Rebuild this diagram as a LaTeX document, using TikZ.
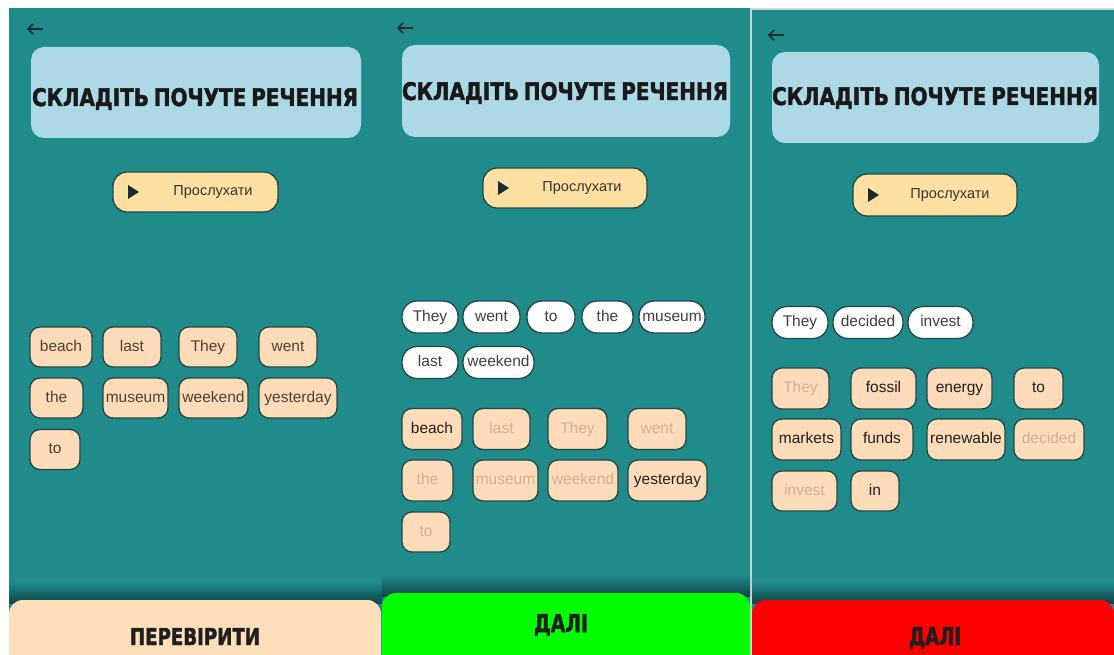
\documentclass[tikz,border=0pt]{standalone}
\usepackage{fontspec}
\usepackage{graphicx}
\setmainfont{Liberation Sans}
\newfontfamily\djv{DejaVu Sans}[BoldFeatures={FakeBold=2}]
\definecolor{teal1}{RGB}{31,139,139}
\definecolor{titlebg}{RGB}{173,216,230}
\definecolor{playbg}{RGB}{255,224,163}
\definecolor{peach}{RGB}{255,220,185}
\definecolor{btnpeach}{RGB}{255,222,186}
\definecolor{chipedge}{RGB}{35,72,68}
\definecolor{chiptxt}{RGB}{75,62,52}
\definecolor{fadetxt}{RGB}{205,176,148}
\definecolor{whitetxt}{RGB}{62,62,62}
\definecolor{sepcol}{RGB}{200,214,214}
\definecolor{green1}{RGB}{0,255,0}
\definecolor{red1}{RGB}{255,0,0}
\definecolor{icon}{RGB}{25,45,45}
\newcommand\chipfont{\fontsize{15.5}{18}\selectfont}
\newcommand\mytitle{\resizebox{326pt}{18pt}{\djv\bfseries СКЛАДІТЬ\hspace{-0.1em} ПОЧУТЕ\hspace{-0.1em} РЕЧЕННЯ}}
\newcommand\backarrow[2]{%
  \draw[icon, line width=1.5pt] ({#1+8},#2) -- ({#1-7},#2);
  \draw[icon, line width=1.5pt, line join=miter] ({#1-2},{#2-5}) -- ({#1-7},#2) -- ({#1-2},{#2+5});}
\newcommand\playtri[2]{%
  \fill[icon] ({#1-5},{#2-7}) -- ({#1+6},#2) -- ({#1-5},{#2+7}) -- cycle;}
\begin{document}
\begin{tikzpicture}[x=1pt,y=-1pt,
  titlebox/.style={fill=titlebg, rounded corners=13pt, inner sep=0pt},
  titletxt/.style={anchor=base, inner sep=0pt, text=black!90},
  playbtn/.style={draw=chipedge, line width=1.3pt, fill=playbg, rounded corners=14pt, inner sep=0pt},
  playtxt/.style={font=\fontsize{14.5}{16}\selectfont, text=black!80, inner sep=0pt},
  peachchip/.style={draw=chipedge, line width=1.3pt, fill=peach, rounded corners=10pt,
    inner sep=0pt, font=\chipfont, text=chiptxt, text height=11pt, text depth=3pt},
  fadechip/.style={peachchip, text=fadetxt},
  darkchip/.style={peachchip, text=black!88},
  whitechip/.style={draw=chipedge, line width=1.3pt, fill=white, rounded corners=15pt,
    inner sep=0pt, font=\chipfont, text=whitetxt, text height=11pt, text depth=3pt},
  btntxt/.style={anchor=base, inner sep=0pt, text=black!88}]
\useasboundingbox (0,0) rectangle (1114,655);
\clip (0,0) rectangle (1114,655);
% backgrounds
\fill[white] (0,0) rectangle (1114,655);
\fill[teal1] (9,8) rectangle (750,655);
\fill[sepcol] (750,8) rectangle (752,655);
\fill[sepcol] (752,8) rectangle (1114,10);
\fill[teal1] (752,10) rectangle (1114,655);
% shadows above bottom buttons
\shade[top color=teal1, bottom color=teal1!50!black] (9,582) rectangle (382,603);
\shade[top color=teal1, bottom color=teal1!50!black] (382,575) rectangle (750,596);
\shade[top color=teal1, bottom color=teal1!50!black] (752,582) rectangle (1114,603);
% bottom buttons
\fill[btnpeach, rounded corners=14pt] (9,680) -- (9,600) -- (381,600) -- (381,680) -- cycle;
\fill[green1, rounded corners=14pt] (382,680) -- (382,593) -- (750,593) -- (750,680) -- cycle;
\fill[red1, rounded corners=14pt] (752,680) -- (752,600) -- (1114,600) -- (1114,680) -- cycle;
\node[btntxt] (b1) at (195,645) {\resizebox{130pt}{17pt}{\djv\bfseries ПЕРЕВІРИТИ}};
\node[btntxt] (b2) at (561,632) {\resizebox{54pt}{18pt}{\djv\bfseries ДАЛІ}};
\node[btntxt] (b3) at (935,645) {\resizebox{52pt}{18pt}{\djv\bfseries ДАЛІ}};
% back arrows
\backarrow{35}{29}
\backarrow{405}{28}
\backarrow{776}{35}
% title boxes
\node[titlebox, minimum width=330pt, minimum height=91pt] (t1) at (196,92.5) {};
\node[titletxt] (t1x) at (195,106) {\mytitle};
\node[titlebox, minimum width=328pt, minimum height=92pt] (t2) at (566,91) {};
\node[titletxt] (t2x) at (565,100) {\mytitle};
\node[titlebox, minimum width=327pt, minimum height=91pt] (t3) at (935.5,97.5) {};
\node[titletxt] (t3x) at (935,105) {\mytitle};
% play buttons
\node[playbtn, minimum width=165pt, minimum height=40pt] (pl1) at (195.5,192) {};
\playtri{133}{192}
\node[playtxt] (pl1x) at (213,192) {Прослухати};
\node[playbtn, minimum width=164pt, minimum height=40pt] (pl2) at (565,188) {};
\playtri{503}{188}
\node[playtxt] (pl2x) at (582,188) {Прослухати};
\node[playbtn, minimum width=164pt, minimum height=42pt] (pl3) at (935,195) {};
\playtri{873}{195}
\node[playtxt] (pl3x) at (950,195) {Прослухати};
% panel 1 chips
\node[peachchip, minimum width=62pt, minimum height=40pt] (a1) at (61,347) {beach};
\node[peachchip, minimum width=58pt, minimum height=40pt] (a2) at (132,347) {last};
\node[peachchip, minimum width=58pt, minimum height=40pt] (a3) at (208,347) {They};
\node[peachchip, minimum width=58pt, minimum height=40pt] (a4) at (288,347) {went};
\node[peachchip, minimum width=53pt, minimum height=40pt] (a5) at (56.5,398) {the};
\node[peachchip, minimum width=65pt, minimum height=40pt] (a6) at (135.5,398) {museum};
\node[peachchip, minimum width=69pt, minimum height=40pt] (a7) at (213.5,398) {weekend};
\node[peachchip, minimum width=78pt, minimum height=40pt] (a8) at (298,398) {yesterday};
\node[peachchip, minimum width=50pt, minimum height=40pt] (a9) at (55,449.5) {to};
% panel 2 selected words
\node[whitechip, minimum width=56pt, minimum height=32pt] (s1) at (430,317) {They};
\node[whitechip, minimum width=57pt, minimum height=32pt] (s2) at (491.5,317) {went};
\node[whitechip, minimum width=48pt, minimum height=32pt] (s3) at (551,317) {to};
\node[whitechip, minimum width=51pt, minimum height=32pt] (s4) at (607.5,317) {the};
\node[whitechip, minimum width=66pt, minimum height=32pt] (s5) at (672,317) {museum};
\node[whitechip, minimum width=56pt, minimum height=32pt] (s6) at (430,362.5) {last};
\node[whitechip, minimum width=71pt, minimum height=32pt] (s7) at (498.5,362.5) {weekend};
% panel 2 word bank
\node[darkchip, minimum width=60pt, minimum height=41pt] (c1) at (432,429) {beach};
\node[fadechip, minimum width=57pt, minimum height=41pt] (c2) at (501.5,429) {last};
\node[fadechip, minimum width=59pt, minimum height=41pt] (c3) at (577.5,429) {They};
\node[fadechip, minimum width=58pt, minimum height=41pt] (c4) at (657,429) {went};
\node[fadechip, minimum width=51pt, minimum height=41pt] (c5) at (427.5,480.5) {the};
\node[fadechip, minimum width=65pt, minimum height=41pt] (c6) at (505.5,480.5) {museum};
\node[fadechip, minimum width=70pt, minimum height=41pt] (c7) at (583,480.5) {weekend};
\node[darkchip, minimum width=79pt, minimum height=41pt] (c8) at (667.5,480.5) {yesterday};
\node[fadechip, minimum width=48pt, minimum height=40pt] (c9) at (426,532) {to};
% panel 3 selected words
\node[whitechip, minimum width=56pt, minimum height=32pt] (u1) at (800,322.5) {They};
\node[whitechip, minimum width=70pt, minimum height=32pt] (u2) at (868,322.5) {decided};
\node[whitechip, minimum width=65pt, minimum height=32pt] (u3) at (940.5,322.5) {invest};
% panel 3 word bank
\node[fadechip, minimum width=57pt, minimum height=41pt] (d1) at (800.5,388.5) {They};
\node[darkchip, minimum width=65pt, minimum height=41pt] (d2) at (883.5,388.5) {fossil};
\node[darkchip, minimum width=65pt, minimum height=41pt] (d3) at (959.5,388.5) {energy};
\node[darkchip, minimum width=49pt, minimum height=41pt] (d4) at (1038.5,388.5) {to};
\node[darkchip, minimum width=69pt, minimum height=41pt] (d5) at (806.5,439.5) {markets};
\node[darkchip, minimum width=62pt, minimum height=41pt] (d6) at (882,439.5) {funds};
\node[darkchip, minimum width=78pt, minimum height=41pt] (d7) at (966,439.5) {renewable};
\node[fadechip, minimum width=70pt, minimum height=41pt] (d8) at (1049,439.5) {decided};
\node[fadechip, minimum width=65pt, minimum height=40pt] (d9) at (804.5,491) {invest};
\node[darkchip, minimum width=48pt, minimum height=40pt] (d10) at (875,491) {in};
\end{tikzpicture}
\end{document}
